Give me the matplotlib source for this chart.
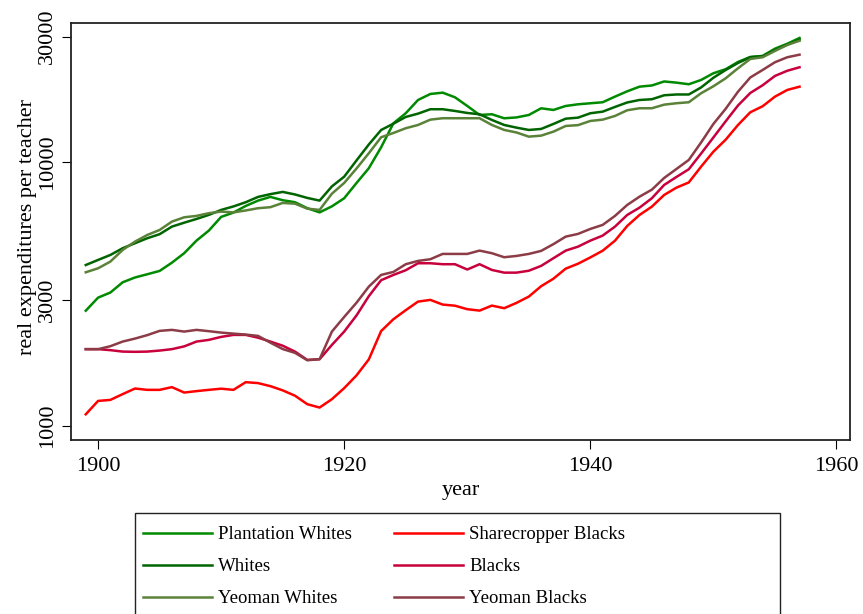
import matplotlib
matplotlib.use("Agg")
import matplotlib.pyplot as plt
from matplotlib.patches import Rectangle
from matplotlib.ticker import FixedLocator, NullLocator, FixedFormatter

plt.rcParams["font.family"] = ["Liberation Serif", "DejaVu Serif"]

years = list(range(1899, 1958))

plantation_whites = [
    2730, 3060, 3200, 3500, 3650, 3755, 3865, 4155, 4515, 5040,
    5500, 6200, 6440, 6825, 7150, 7385, 7175, 7050, 6690, 6450,
    6800, 7300, 8340, 9490, 11400, 14060, 15350, 17240, 18170, 18380,
    17650, 16360, 15120, 15215, 14690, 14800, 15120, 16030, 15800, 16360,
    16600, 16750, 16900, 17750, 18600, 19370, 19570, 20270, 20060, 19780,
    20540, 21780, 22570, 24040, 25120, 25340, 27000, 28190, 29650,
]
whites = [
    4070, 4255, 4445, 4715, 4925, 5145, 5330, 5695, 5895, 6090,
    6310, 6590, 6795, 7050, 7385, 7565, 7715, 7545, 7320, 7150,
    8095, 8815, 10160, 11680, 13260, 14015, 14860, 15300, 15900, 15900,
    15660, 15390, 15215, 14475, 13855, 13535, 13265, 13380, 13980, 14640,
    14770, 15350, 15565, 16220, 16870, 17240, 17350, 17965, 18090, 18090,
    19235, 20940, 22415, 23830, 25050, 25270, 26700, 27965, 29215,
]
yeoman_whites = [
    3820, 3955, 4195, 4645, 4995, 5295, 5530, 5950, 6180, 6255,
    6405, 6495, 6450, 6560, 6690, 6750, 7005, 6960, 6665, 6590,
    7595, 8345, 9470, 10820, 12445, 12920, 13465, 13855, 14515, 14695,
    14695, 14695, 14695, 13855, 13265, 12975, 12510, 12620, 13070, 13735,
    13835, 14350, 14515, 14990, 15760, 16035, 16035, 16550, 16755, 16900,
    18285, 19435, 20845, 22750, 24680, 25050, 26465, 27895, 28940,
]
sharecropper_blacks = [
    1103, 1240, 1251, 1316, 1382, 1366, 1366, 1399, 1334, 1351,
    1366, 1380, 1366, 1461, 1449, 1411, 1360, 1298, 1205, 1170,
    1259, 1387, 1550, 1783, 2284, 2534, 2742, 2956, 3000, 2880,
    2852, 2766, 2732, 2854, 2790, 2923, 3088, 3381, 3611, 3944,
    4117, 4350, 4612, 5034, 5730, 6308, 6782, 7513, 8009, 8381,
    9622, 10971, 12185, 13857, 15485, 16319, 17746, 18818, 19368,
]
blacks = [
    1950, 1950, 1933, 1909, 1905, 1909, 1926, 1950, 1998, 2084,
    2115, 2171, 2209, 2209, 2156, 2084, 2010, 1909, 1775, 1786,
    2024, 2274, 2619, 3099, 3564, 3733, 3889, 4134, 4134, 4099,
    4099, 3913, 4099, 3899, 3808, 3808, 3872, 4039, 4320, 4617,
    4780, 5038, 5264, 5694, 6308, 6724, 7300, 8200, 8794, 9406,
    10790, 12423, 14313, 16433, 18332, 19608, 21270, 22258, 22951,
]
yeoman_blacks = [
    1950, 1950, 2001, 2084, 2139, 2205, 2288, 2308, 2274, 2308,
    2282, 2254, 2234, 2215, 2190, 2064, 1952, 1888, 1770, 1786,
    2274, 2585, 2927, 3369, 3733, 3832, 4099, 4219, 4282, 4485,
    4485, 4485, 4617, 4513, 4357, 4407, 4485, 4605, 4886, 5218,
    5343, 5581, 5780, 6253, 6884, 7402, 7869, 8717, 9431, 10203,
    11890, 13979, 15967, 18539, 20993, 22415, 23977, 25048, 25623,
]

series = [
    ("Plantation Whites", plantation_whites, "#008a00"),
    ("Whites", whites, "#006400"),
    ("Yeoman Whites", yeoman_whites, "#5a8238"),
    ("Sharecropper Blacks", sharecropper_blacks, "#ff0000"),
    ("Blacks", blacks, "#c8003c"),
    ("Yeoman Blacks", yeoman_blacks, "#8c3c46"),
]

y_ticks = [1000, 3000, 10000, 30000]
y_tick_labels = ["1000", "3000", "10000", "30000"]
x_ticks = [1900, 1920, 1940, 1960]

W, H = 863, 614
fig = plt.figure(figsize=(W / 100, H / 100), dpi=100)
ax = fig.add_axes([71 / W, 1 - 440 / H, (850 - 71) / W, (440 - 23) / H])

for name, vals, color in series:
    ax.plot(years, vals, color=color, lw=1.8, label=name)

ax.set_yscale("log")
ax.set_xlim(1897.8, 1961.1)
ax.set_ylim(881, 33800)
ax.yaxis.set_major_locator(FixedLocator(y_ticks))
ax.yaxis.set_major_formatter(FixedFormatter(y_tick_labels))
ax.yaxis.set_minor_locator(NullLocator())
ax.set_xticks(x_ticks)

ax.tick_params(axis="both", direction="out", length=6.5, width=0.8,
               labelsize=16, color="black")
ax.tick_params(axis="y", pad=3.5)
ax.tick_params(axis="x", pad=6)
for lab in ax.get_yticklabels():
    lab.set_rotation(90)
    lab.set_va("center")

for sp in ax.spines.values():
    sp.set_linewidth(1.3)
    sp.set_color("#222222")

ax.set_xlabel("year", fontsize=16)
ax.set_ylabel("real expenditures per teacher", fontsize=16)
ax.xaxis.set_label_coords(0.5, -0.098)
ax.yaxis.set_label_coords(-0.044, 0.511)

handles, labels = ax.get_legend_handles_labels()
fig.legend(handles, labels, ncol=2, loc="upper left",
           bbox_to_anchor=(143 / W, 1 - 526 / H), frameon=False,
           fontsize=13.5, handlelength=3.7, handletextpad=0.3,
           columnspacing=2.25, labelspacing=0.8, borderpad=0,
           borderaxespad=0)
fig.patches.append(Rectangle((135 / W, -0.05), (780 - 135) / W,
                             0.05 + 1 - 513 / H, transform=fig.transFigure,
                             fill=False, edgecolor="#222222", lw=1.0))

fig.savefig("out.png", dpi=100)
